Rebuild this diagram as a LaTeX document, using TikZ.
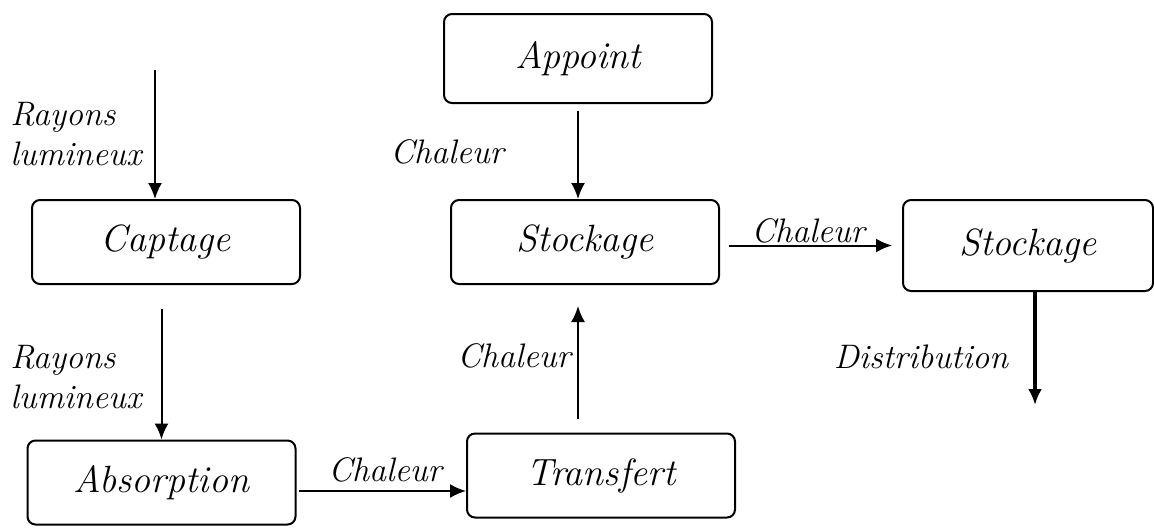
\documentclass[tikz,border=0pt]{standalone}
\usetikzlibrary{arrows.meta}
\begin{document}
\begin{tikzpicture}[x=0.5pt, y=-0.5pt,
        % Styles communs
        bloc/.style={
            rectangle, draw=black, line width=1pt,
            rounded corners=4pt, minimum width=134pt,
            minimum height=42pt, font=\fontsize{19}{22}\selectfont\itshape
        },
        etiq/.style={font=\fontsize{17}{20}\selectfont\itshape, inner sep=0pt},
        arr/.style={-{Latex[length=8pt, width=7pt]}, line width=1pt}
    ]
        \useasboundingbox (0,0) rectangle (1154,527);

        % Les blocs aux coordonnees directes
        \node[bloc] (captage) at (166, 242) {Captage};
        \node[bloc] (absorption) at (161.5, 482.5) {Absorption};
        \node[bloc] (transfert) at (601, 475.5) {Transfert};
        \node[bloc] (stockage) at (585, 242) {Stockage};
        \node[bloc, minimum height=44.5pt] (appoint) at (578, 58.5) {Appoint};
        \node[bloc, minimum width=125pt, minimum height=45.5pt] (stockfin) at (1028, 245.5) {Stockage};

        % Extremites libres
        \coordinate (rayon) at (155, 70);
        \coordinate (distrib) at (1035, 405);

        % Etiquettes
        \node[etiq, anchor=west, align=left] (ray1) at (10, 134) {Rayons\\lumineux};
        \node[etiq, anchor=west, align=left] (ray2) at (10, 377) {Rayons\\lumineux};
        \node[etiq] (ch1) at (385, 470) {Chaleur};
        \node[etiq] (ch2) at (514, 356) {Chaleur};
        \node[etiq] (ch3) at (447, 152) {Chaleur};
        \node[etiq] (ch4) at (808, 231) {Chaleur};
        \node[etiq] (dist) at (921, 357) {Distribution};

        % Fleches
        \draw[arr] (rayon) -- (rayon |- captage.north);
        \draw[arr, shorten <=12pt] (absorption.north |- captage.south) -- (absorption.north);
        \draw[arr] (absorption.east) ++(2,8.5) coordinate (a1) -- (a1 -| transfert.west);
        \draw[arr, shorten <=7pt, shorten >=10.5pt] (transfert.north -| appoint.south) -- (stockage.south -| appoint.south);
        \draw[arr, shorten <=3.5pt] (appoint.south) -- (stockage.north -| appoint.south);
        \draw[arr, shorten <=4.5pt, shorten >=5pt] (stockage.east |- stockfin.west) -- (stockfin.west);
        \draw[arr, line width=1.6pt] (distrib |- stockfin.south) -- (distrib);

    \end{tikzpicture}
\end{document}
